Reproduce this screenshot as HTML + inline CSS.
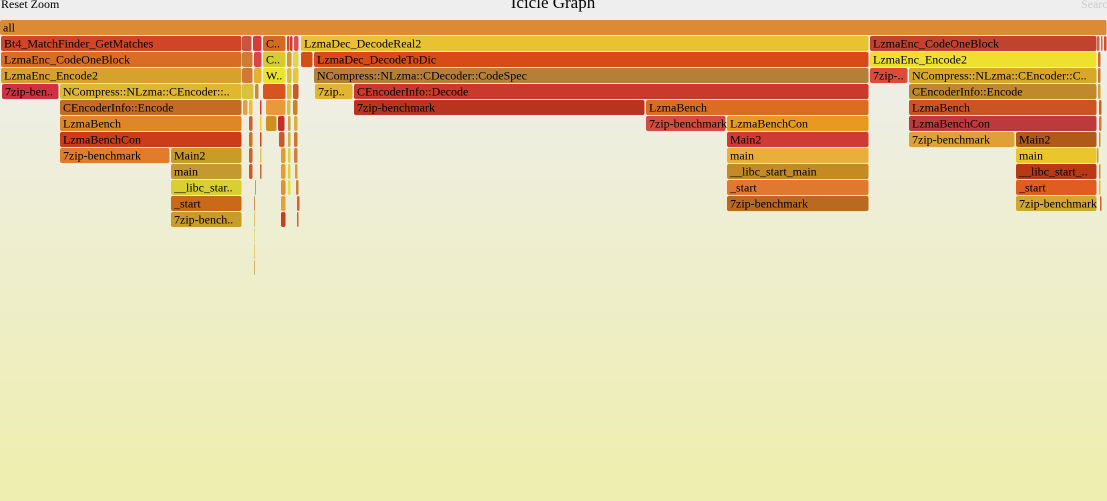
<!DOCTYPE html>
<html><head><meta charset="utf-8"><style>
html,body{margin:0;padding:0;width:1107px;height:501px;overflow:hidden;}
svg{display:block;}
text{font-family:"Liberation Serif",serif;}
</style></head><body>
<svg id="chart" width="1107" height="501" xmlns="http://www.w3.org/2000/svg">
<defs><linearGradient id="bg" x1="0" y1="0" x2="0" y2="1"><stop offset="5%" stop-color="#eeeeee"/><stop offset="95%" stop-color="#eeeeb0"/></linearGradient></defs>
<rect width="1107" height="501" fill="url(#bg)"/>
<text x="553" y="8" font-size="17" text-anchor="middle" fill="#000">Icicle Graph</text>
<text x="1" y="8" font-size="12" fill="#000">Reset Zoom</text>
<text x="1081" y="8" font-size="12" fill="#ccc">Search</text>
<g id="frames"></g>
</svg>
<script>
const rowNames=[
["all"],
["Bt4_MatchFinder_GetMatches","","","C..","","","","LzmaDec_DecodeReal2","LzmaEnc_CodeOneBlock","","",""],
["LzmaEnc_CodeOneBlock","","","C..","","","","LzmaDec_DecodeToDic","LzmaEnc_Encode2",""],
["LzmaEnc_Encode2","","","W..","","","NCompress::NLzma::CDecoder::CodeSpec","7zip-..","NCompress::NLzma::CEncoder::C..",""],
["7zip-ben..","NCompress::NLzma::CEncoder::..","","","","","","7zip..","CEncoderInfo::Decode","CEncoderInfo::Encode",""],
["CEncoderInfo::Encode","","","","","","","7zip-benchmark","LzmaBench","LzmaBench",""],
["LzmaBench","","","","","","","7zip-benchmark","LzmaBenchCon","LzmaBenchCon",""],
["LzmaBenchCon","","","","","","Main2","7zip-benchmark","Main2",""],
["7zip-benchmark","Main2","","","","","","main","main",""],
["main","","","","","","__libc_start_main","__libc_start_..",""],
["__libc_star..","","","","","_start","_start",""],
["_start","","","","7zip-benchmark","7zip-benchmark",""],
["7zip-bench..","","",""],
[""],[""],[""]];
const rowStarts=[
[0],
[1,242,253,263,287,290,294,301,870,1097,1101,1104],
[1,242,254,263,287,293,301,314,870,1098],
[1,242,254,263,287,293,314,870,909,1098],
[2,60,242,255,263,287,293,315,354,909,1098],
[60,243,249,260,266,287,293,354,646,909,1099],
[60,249,260,266,278,288,294,646,727,909,1099],
[60,249,260,279,288,294,727,909,1016,1099],
[60,171,249,260,281,288,294,727,1016,1097],
[171,249,260,281,288,295,727,1016,1099],
[171,255,281,288,296,727,1016,1099],
[171,254,281,297,727,1016,1100],
[171,254,281,297],
[254],[254],[254]];
const rowWidths=[
[1107],
[241,10,9,23,3,3,5,568,227,3,2,3],
[241,11,8,23,5,6,12,555,227,3],
[241,11,8,23,5,6,555,38,188,3],
[57,182,12,4,23,5,6,38,515,188,3],
[182,5,4,2,20,4,5,291,223,188,3],
[182,4,2,11,7,3,4,80,142,188,3],
[182,4,2,6,3,4,142,106,81,2],
[110,71,4,2,5,3,4,142,81,2],
[71,4,2,5,3,3,142,81,2],
[71,1,5,3,3,142,81,2],
[71,1,5,3,142,81,2],
[71,1,5,2],
[1],[1],[1]];
const rowColors=[
["#db8a36"],
["#d04428","#c8553a","#d33c3c","#d46b25","#cc4a2c","#cc3c2c","#d85050","#e8c230","#c0432e","#d8603a","#e06040","#d84a30"],
["#d96d24","#d07a33","#d8464a","#d4cc30","#d79a24","#e4d54c","#d05018","#d84a16","#efe030","#d06a30"],
["#d6a22c","#d07a33","#e8b030","#ece42c","#d8c030","#e0c840","#b57f3a","#e04838","#d8a828","#c87a30"],
["#d03040","#e0b830","#d8c040","#c88a30","#d8541f","#e0c030","#c85a28","#e2b530","#c93a2a","#c08a2c","#d0a030"],
["#c46c24","#e0a040","#e8c030","#d04030","#e89a3a","#d8c040","#d08028","#b8341e","#db6c22","#cc5424","#d06030"],
["#df8626","#c86030","#e8d030","#d09020","#c03028","#d0a040","#d8b040","#d44c3c","#e89a20","#bc3a3c","#d08030"],
["#cc3c18","#d07020","#d04030","#c85a28","#d0b040","#c87a30","#d03a36","#dca238","#b05a1a","#d09030"],
["#e07c2c","#c89c26","#c86030","#e0c840","#d8a030","#e0d040","#d08040","#e8b03a","#ecc42c","#c8a030"],
["#c49a30","#c85a28","#d06040","#e0a030","#e0d040","#d0a040","#c48a24","#b83a14","#d09030"],
["#d8d030","#d08030","#e09030","#e0e040","#d08030","#e07830","#e05c20","#e0c030"],
["#c86a18","#d07040","#e0a040","#d06040","#b86a20","#d0a830","#d06030"],
["#c89c28","#d8b060","#c04020","#d06040"],
["#e8d070"],["#e8c060"],["#d0a050"]];
const ROW=16, H=15, TOP=20;
const g=document.getElementById('frames');
const NS='http://www.w3.org/2000/svg';
for(let d=0;d<rowNames.length;d++){
  for(let i=0;i<rowNames[d].length;i++){
    const name=rowNames[d][i], x=rowStarts[d][i], w=rowWidths[d][i], y=TOP+d*ROW;
    const grp=document.createElementNS(NS,'g');
    
    
    const r=document.createElementNS(NS,'rect');
    r.setAttribute('x',x);r.setAttribute('y',y);r.setAttribute('width',Math.max(w-0.5,0.8));r.setAttribute('height',H);
    r.setAttribute('rx',2);r.setAttribute('ry',2);r.setAttribute('fill',rowColors[d][i]);
    grp.appendChild(r);
    if(name){
      const t=document.createElementNS(NS,'text');
      t.setAttribute('x',x+3);t.setAttribute('y',y+11.5);t.setAttribute('font-size','12');t.setAttribute('fill','#000');
      t.textContent=name;
      grp.appendChild(t);
    }
    g.appendChild(grp);
  }
}
</script>
</body></html>
